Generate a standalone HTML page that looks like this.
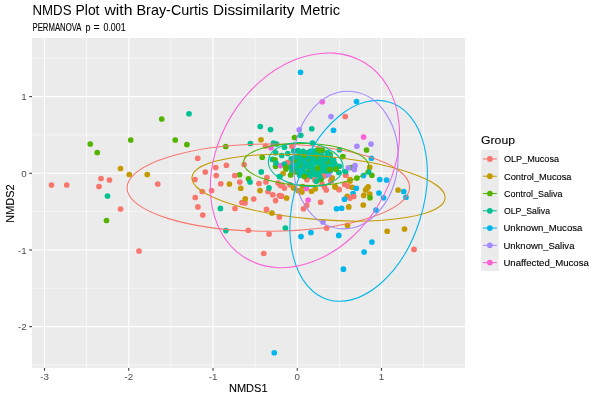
<!DOCTYPE html><html><head><meta charset="utf-8"><style>html,body{margin:0;padding:0;background:#fff}body{width:600px;height:400px;position:relative;overflow:hidden;font-family:"Liberation Sans",sans-serif}</style></head><body><svg width="600" height="400" viewBox="0 0 600 400" style="position:absolute;left:0;top:0;will-change:transform;font-family:'Liberation Sans',sans-serif">
<rect width="600" height="400" fill="#fff"/>
<rect x="32" y="38" width="433" height="330" fill="#EBEBEB"/>
<line x1="86.62" x2="86.62" y1="38" y2="368" stroke="#fff" stroke-width="0.6"/>
<line x1="170.88" x2="170.88" y1="38" y2="368" stroke="#fff" stroke-width="0.6"/>
<line x1="255.12" x2="255.12" y1="38" y2="368" stroke="#fff" stroke-width="0.6"/>
<line x1="339.38" x2="339.38" y1="38" y2="368" stroke="#fff" stroke-width="0.6"/>
<line x1="423.62" x2="423.62" y1="38" y2="368" stroke="#fff" stroke-width="0.6"/>
<line y1="58.30" y2="58.30" x1="32" x2="465" stroke="#fff" stroke-width="0.6"/>
<line y1="134.97" y2="134.97" x1="32" x2="465" stroke="#fff" stroke-width="0.6"/>
<line y1="211.64" y2="211.64" x1="32" x2="465" stroke="#fff" stroke-width="0.6"/>
<line y1="288.31" y2="288.31" x1="32" x2="465" stroke="#fff" stroke-width="0.6"/>
<line y1="364.98" y2="364.98" x1="32" x2="465" stroke="#fff" stroke-width="0.6"/>
<line x1="44.50" x2="44.50" y1="38" y2="368" stroke="#fff" stroke-width="1.07"/>
<line x1="128.75" x2="128.75" y1="38" y2="368" stroke="#fff" stroke-width="1.07"/>
<line x1="213.00" x2="213.00" y1="38" y2="368" stroke="#fff" stroke-width="1.07"/>
<line x1="297.25" x2="297.25" y1="38" y2="368" stroke="#fff" stroke-width="1.07"/>
<line x1="381.50" x2="381.50" y1="38" y2="368" stroke="#fff" stroke-width="1.07"/>
<line y1="96.63" y2="96.63" x1="32" x2="465" stroke="#fff" stroke-width="1.07"/>
<line y1="173.30" y2="173.30" x1="32" x2="465" stroke="#fff" stroke-width="1.07"/>
<line y1="249.97" y2="249.97" x1="32" x2="465" stroke="#fff" stroke-width="1.07"/>
<line y1="326.64" y2="326.64" x1="32" x2="465" stroke="#fff" stroke-width="1.07"/>
<circle cx="272.5" cy="159.4" r="2.85" fill="#00C094"/>
<circle cx="161.75" cy="119" r="2.85" fill="#53B400"/>
<circle cx="130.75" cy="140" r="2.85" fill="#53B400"/>
<circle cx="175.25" cy="140" r="2.85" fill="#53B400"/>
<circle cx="90.25" cy="144" r="2.85" fill="#53B400"/>
<circle cx="97.25" cy="152.5" r="2.85" fill="#53B400"/>
<circle cx="106.5" cy="220.5" r="2.85" fill="#53B400"/>
<circle cx="186.9" cy="144.6" r="2.85" fill="#53B400"/>
<circle cx="225.75" cy="146.5" r="2.85" fill="#53B400"/>
<circle cx="294.5" cy="137.5" r="2.85" fill="#53B400"/>
<circle cx="262.25" cy="157.25" r="2.85" fill="#53B400"/>
<circle cx="275" cy="159.75" r="2.85" fill="#53B400"/>
<circle cx="275.6" cy="166.25" r="2.85" fill="#53B400"/>
<circle cx="366.5" cy="150" r="2.85" fill="#53B400"/>
<circle cx="335.6" cy="168.5" r="2.85" fill="#53B400"/>
<circle cx="330" cy="154.4" r="2.85" fill="#53B400"/>
<circle cx="371.9" cy="175.25" r="2.85" fill="#53B400"/>
<circle cx="239.6" cy="174.75" r="2.85" fill="#53B400"/>
<circle cx="248.5" cy="178.75" r="2.85" fill="#53B400"/>
<circle cx="351.5" cy="167.5" r="2.85" fill="#53B400"/>
<circle cx="286" cy="169" r="2.85" fill="#53B400"/>
<circle cx="317.5" cy="150" r="2.85" fill="#53B400"/>
<circle cx="322.5" cy="150.6" r="2.85" fill="#53B400"/>
<circle cx="322.3" cy="151.0" r="2.85" fill="#00C094"/>
<circle cx="314.0" cy="172.4" r="2.85" fill="#00C094"/>
<circle cx="330.4" cy="170.7" r="2.85" fill="#00C094"/>
<circle cx="298.6" cy="160.4" r="2.85" fill="#00C094"/>
<circle cx="303.1" cy="168.5" r="2.85" fill="#00C094"/>
<circle cx="322.6" cy="171.2" r="2.85" fill="#00C094"/>
<circle cx="307.4" cy="156.0" r="2.85" fill="#00C094"/>
<circle cx="310.1" cy="156.4" r="2.85" fill="#00C094"/>
<circle cx="302.9" cy="164.5" r="2.85" fill="#00C094"/>
<circle cx="333.4" cy="166.8" r="2.85" fill="#00C094"/>
<circle cx="302.7" cy="155.7" r="2.85" fill="#00C094"/>
<circle cx="314.6" cy="155.0" r="2.85" fill="#00C094"/>
<circle cx="329.6" cy="159.2" r="2.85" fill="#00C094"/>
<circle cx="330.1" cy="156.4" r="2.85" fill="#00C094"/>
<circle cx="294.5" cy="170.6" r="2.85" fill="#00C094"/>
<circle cx="317.8" cy="171.1" r="2.85" fill="#00C094"/>
<circle cx="318.2" cy="168.0" r="2.85" fill="#00C094"/>
<circle cx="322.0" cy="156.1" r="2.85" fill="#00C094"/>
<circle cx="318.4" cy="160.0" r="2.85" fill="#00C094"/>
<circle cx="294.9" cy="160.3" r="2.85" fill="#00C094"/>
<circle cx="292.0" cy="171.4" r="2.85" fill="#00C094"/>
<circle cx="313.5" cy="168.3" r="2.85" fill="#00C094"/>
<circle cx="319.3" cy="175.4" r="2.85" fill="#00C094"/>
<circle cx="290.0" cy="164.4" r="2.85" fill="#00C094"/>
<circle cx="318.6" cy="156.1" r="2.85" fill="#00C094"/>
<circle cx="299.6" cy="166.8" r="2.85" fill="#00C094"/>
<circle cx="295.2" cy="162.8" r="2.85" fill="#00C094"/>
<circle cx="330.6" cy="163.2" r="2.85" fill="#00C094"/>
<circle cx="325.8" cy="167.2" r="2.85" fill="#00C094"/>
<circle cx="307.0" cy="159.2" r="2.85" fill="#00C094"/>
<circle cx="307.3" cy="172.5" r="2.85" fill="#00C094"/>
<circle cx="319.2" cy="163.7" r="2.85" fill="#00C094"/>
<circle cx="333.6" cy="160.1" r="2.85" fill="#00C094"/>
<circle cx="299.7" cy="175.3" r="2.85" fill="#00C094"/>
<circle cx="295.4" cy="167.8" r="2.85" fill="#00C094"/>
<circle cx="326.3" cy="163.3" r="2.85" fill="#00C094"/>
<circle cx="327" cy="161" r="2.85" fill="#53B400"/>
<circle cx="308.75" cy="161.25" r="2.85" fill="#53B400"/>
<circle cx="326" cy="161" r="2.85" fill="#53B400"/>
<circle cx="300" cy="165" r="2.85" fill="#53B400"/>
<circle cx="310" cy="170" r="2.85" fill="#53B400"/>
<circle cx="315" cy="158" r="2.85" fill="#53B400"/>
<circle cx="296" cy="172" r="2.85" fill="#53B400"/>
<circle cx="305" cy="155" r="2.85" fill="#53B400"/>
<circle cx="294" cy="160" r="2.85" fill="#53B400"/>
<circle cx="312" cy="173" r="2.85" fill="#53B400"/>
<circle cx="318" cy="168" r="2.85" fill="#53B400"/>
<circle cx="295.2" cy="156.6" r="2.85" fill="#00C094"/>
<circle cx="329.4" cy="167.5" r="2.85" fill="#00C094"/>
<circle cx="303.4" cy="172.5" r="2.85" fill="#00C094"/>
<circle cx="325.7" cy="175.2" r="2.85" fill="#00C094"/>
<circle cx="326.5" cy="156.8" r="2.85" fill="#00C094"/>
<circle cx="310.7" cy="162.8" r="2.85" fill="#00C094"/>
<circle cx="325.8" cy="171.7" r="2.85" fill="#00C094"/>
<circle cx="322.5" cy="162.8" r="2.85" fill="#00C094"/>
<circle cx="298.1" cy="170.9" r="2.85" fill="#00C094"/>
<circle cx="334.7" cy="163.6" r="2.85" fill="#00C094"/>
<circle cx="306.2" cy="166.7" r="2.85" fill="#00C094"/>
<circle cx="311.2" cy="158.9" r="2.85" fill="#00C094"/>
<circle cx="313.8" cy="159.6" r="2.85" fill="#00C094"/>
<circle cx="310.3" cy="151.3" r="2.85" fill="#00C094"/>
<circle cx="291.3" cy="158.9" r="2.85" fill="#00C094"/>
<circle cx="298.7" cy="164.6" r="2.85" fill="#00C094"/>
<circle cx="299.2" cy="152.8" r="2.85" fill="#00C094"/>
<circle cx="322.5" cy="167.5" r="2.85" fill="#00C094"/>
<circle cx="290.5" cy="167.1" r="2.85" fill="#00C094"/>
<circle cx="322.6" cy="175.9" r="2.85" fill="#00C094"/>
<circle cx="310.5" cy="176.4" r="2.85" fill="#00C094"/>
<circle cx="325.6" cy="159.7" r="2.85" fill="#00C094"/>
<circle cx="302.4" cy="160.0" r="2.85" fill="#00C094"/>
<circle cx="307.3" cy="163.8" r="2.85" fill="#00C094"/>
<circle cx="314.6" cy="163.0" r="2.85" fill="#00C094"/>
<circle cx="303.0" cy="174.7" r="2.85" fill="#00C094"/>
<circle cx="305.8" cy="176.0" r="2.85" fill="#00C094"/>
<circle cx="310.9" cy="167.3" r="2.85" fill="#00C094"/>
<circle cx="314.0" cy="151.2" r="2.85" fill="#00C094"/>
<circle cx="321.2" cy="160.0" r="2.85" fill="#00C094"/>
<circle cx="303.0" cy="151.6" r="2.85" fill="#00C094"/>
<circle cx="318.2" cy="152.0" r="2.85" fill="#00C094"/>
<circle cx="299.2" cy="156.7" r="2.85" fill="#00C094"/>
<circle cx="315.2" cy="175.2" r="2.85" fill="#00C094"/>
<circle cx="311.3" cy="172.5" r="2.85" fill="#00C094"/>
<circle cx="307.3" cy="152.9" r="2.85" fill="#00C094"/>
<circle cx="287.75" cy="162.5" r="2.85" fill="#F8766D"/>
<circle cx="347.25" cy="196.25" r="2.85" fill="#C49A00"/>
<circle cx="353.1" cy="193.5" r="2.85" fill="#00B6EB"/>
<circle cx="51.5" cy="185" r="2.85" fill="#F8766D"/>
<circle cx="66.75" cy="185" r="2.85" fill="#F8766D"/>
<circle cx="101" cy="178.5" r="2.85" fill="#F8766D"/>
<circle cx="109.5" cy="180" r="2.85" fill="#F8766D"/>
<circle cx="99" cy="186.5" r="2.85" fill="#F8766D"/>
<circle cx="157.75" cy="184" r="2.85" fill="#F8766D"/>
<circle cx="120.5" cy="209" r="2.85" fill="#F8766D"/>
<circle cx="139" cy="251" r="2.85" fill="#F8766D"/>
<circle cx="197.75" cy="158.25" r="2.85" fill="#F8766D"/>
<circle cx="215.75" cy="167.5" r="2.85" fill="#F8766D"/>
<circle cx="226.4" cy="165.25" r="2.85" fill="#F8766D"/>
<circle cx="244.1" cy="164.5" r="2.85" fill="#F8766D"/>
<circle cx="265.5" cy="146" r="2.85" fill="#F8766D"/>
<circle cx="292" cy="146.5" r="2.85" fill="#F8766D"/>
<circle cx="345.25" cy="116.5" r="2.85" fill="#F8766D"/>
<circle cx="345.6" cy="175.25" r="2.85" fill="#F8766D"/>
<circle cx="331" cy="180.6" r="2.85" fill="#F8766D"/>
<circle cx="344.75" cy="184.4" r="2.85" fill="#F8766D"/>
<circle cx="348.1" cy="186.25" r="2.85" fill="#F8766D"/>
<circle cx="339.1" cy="189.6" r="2.85" fill="#F8766D"/>
<circle cx="353.75" cy="196.5" r="2.85" fill="#F8766D"/>
<circle cx="350" cy="198.1" r="2.85" fill="#F8766D"/>
<circle cx="205.25" cy="172" r="2.85" fill="#F8766D"/>
<circle cx="216.25" cy="175.5" r="2.85" fill="#F8766D"/>
<circle cx="195" cy="179.5" r="2.85" fill="#F8766D"/>
<circle cx="234.75" cy="175.5" r="2.85" fill="#F8766D"/>
<circle cx="239.75" cy="182" r="2.85" fill="#F8766D"/>
<circle cx="220.75" cy="183.75" r="2.85" fill="#F8766D"/>
<circle cx="202.25" cy="191.5" r="2.85" fill="#F8766D"/>
<circle cx="211.6" cy="190.6" r="2.85" fill="#F8766D"/>
<circle cx="195.25" cy="197.5" r="2.85" fill="#F8766D"/>
<circle cx="253.75" cy="199" r="2.85" fill="#F8766D"/>
<circle cx="241.9" cy="202.5" r="2.85" fill="#F8766D"/>
<circle cx="245" cy="202.9" r="2.85" fill="#F8766D"/>
<circle cx="197.9" cy="206.9" r="2.85" fill="#F8766D"/>
<circle cx="235" cy="208.5" r="2.85" fill="#F8766D"/>
<circle cx="202.75" cy="215" r="2.85" fill="#F8766D"/>
<circle cx="266.9" cy="177.5" r="2.85" fill="#F8766D"/>
<circle cx="266" cy="181.9" r="2.85" fill="#F8766D"/>
<circle cx="259" cy="183.5" r="2.85" fill="#F8766D"/>
<circle cx="268.1" cy="191.5" r="2.85" fill="#F8766D"/>
<circle cx="278.1" cy="183.1" r="2.85" fill="#F8766D"/>
<circle cx="280.6" cy="185.6" r="2.85" fill="#F8766D"/>
<circle cx="284.4" cy="188.1" r="2.85" fill="#F8766D"/>
<circle cx="290" cy="184.75" r="2.85" fill="#F8766D"/>
<circle cx="272.75" cy="194.75" r="2.85" fill="#F8766D"/>
<circle cx="279.4" cy="195.6" r="2.85" fill="#F8766D"/>
<circle cx="281.5" cy="196.25" r="2.85" fill="#F8766D"/>
<circle cx="275.6" cy="200.6" r="2.85" fill="#F8766D"/>
<circle cx="306.9" cy="179.75" r="2.85" fill="#F8766D"/>
<circle cx="314.75" cy="180" r="2.85" fill="#F8766D"/>
<circle cx="322.5" cy="176.9" r="2.85" fill="#F8766D"/>
<circle cx="324.4" cy="186.9" r="2.85" fill="#F8766D"/>
<circle cx="326.25" cy="190" r="2.85" fill="#F8766D"/>
<circle cx="320.6" cy="202.25" r="2.85" fill="#F8766D"/>
<circle cx="306.6" cy="205.4" r="2.85" fill="#F8766D"/>
<circle cx="303.5" cy="208.75" r="2.85" fill="#F8766D"/>
<circle cx="266.5" cy="209.4" r="2.85" fill="#F8766D"/>
<circle cx="279.4" cy="216.9" r="2.85" fill="#F8766D"/>
<circle cx="248.25" cy="230.25" r="2.85" fill="#F8766D"/>
<circle cx="269.1" cy="234.1" r="2.85" fill="#F8766D"/>
<circle cx="326.6" cy="228.1" r="2.85" fill="#F8766D"/>
<circle cx="263.75" cy="253.5" r="2.85" fill="#F8766D"/>
<circle cx="414" cy="249.4" r="2.85" fill="#F8766D"/>
<circle cx="345.8" cy="175" r="2.85" fill="#F8766D"/>
<circle cx="323.5" cy="176" r="2.85" fill="#F8766D"/>
<circle cx="331" cy="181" r="2.85" fill="#F8766D"/>
<circle cx="339" cy="189.5" r="2.85" fill="#F8766D"/>
<circle cx="282" cy="185" r="2.85" fill="#F8766D"/>
<circle cx="281.5" cy="196" r="2.85" fill="#F8766D"/>
<circle cx="322" cy="184" r="2.85" fill="#F8766D"/>
<circle cx="120.5" cy="168.5" r="2.85" fill="#C49A00"/>
<circle cx="129.25" cy="174.5" r="2.85" fill="#C49A00"/>
<circle cx="147.25" cy="174.5" r="2.85" fill="#C49A00"/>
<circle cx="261" cy="139.75" r="2.85" fill="#C49A00"/>
<circle cx="369.75" cy="167.25" r="2.85" fill="#C49A00"/>
<circle cx="331.9" cy="178.1" r="2.85" fill="#C49A00"/>
<circle cx="350" cy="181" r="2.85" fill="#C49A00"/>
<circle cx="335.25" cy="186.9" r="2.85" fill="#C49A00"/>
<circle cx="352.25" cy="187.25" r="2.85" fill="#C49A00"/>
<circle cx="368.1" cy="186.9" r="2.85" fill="#C49A00"/>
<circle cx="366.8" cy="188.5" r="2.85" fill="#C49A00"/>
<circle cx="365.6" cy="190" r="2.85" fill="#C49A00"/>
<circle cx="398.1" cy="190" r="2.85" fill="#C49A00"/>
<circle cx="363.75" cy="195.4" r="2.85" fill="#C49A00"/>
<circle cx="369.75" cy="194.1" r="2.85" fill="#C49A00"/>
<circle cx="363.25" cy="205" r="2.85" fill="#C49A00"/>
<circle cx="348.75" cy="206.9" r="2.85" fill="#C49A00"/>
<circle cx="229.4" cy="184" r="2.85" fill="#C49A00"/>
<circle cx="240.75" cy="188.25" r="2.85" fill="#C49A00"/>
<circle cx="245.25" cy="198.75" r="2.85" fill="#C49A00"/>
<circle cx="283.1" cy="173.5" r="2.85" fill="#C49A00"/>
<circle cx="260" cy="190.6" r="2.85" fill="#C49A00"/>
<circle cx="286.6" cy="198" r="2.85" fill="#C49A00"/>
<circle cx="293.5" cy="188.1" r="2.85" fill="#C49A00"/>
<circle cx="298.1" cy="190.6" r="2.85" fill="#C49A00"/>
<circle cx="301.9" cy="191.9" r="2.85" fill="#C49A00"/>
<circle cx="311.5" cy="191.25" r="2.85" fill="#C49A00"/>
<circle cx="315.25" cy="188.75" r="2.85" fill="#C49A00"/>
<circle cx="271.9" cy="213.1" r="2.85" fill="#C49A00"/>
<circle cx="347.5" cy="225.4" r="2.85" fill="#C49A00"/>
<circle cx="387.2" cy="231.25" r="2.85" fill="#C49A00"/>
<circle cx="404.5" cy="229" r="2.85" fill="#C49A00"/>
<circle cx="332" cy="178" r="2.85" fill="#C49A00"/>
<circle cx="350" cy="179.5" r="2.85" fill="#C49A00"/>
<circle cx="335" cy="186.8" r="2.85" fill="#C49A00"/>
<circle cx="302.5" cy="186.5" r="2.85" fill="#C49A00"/>
<circle cx="321" cy="179.5" r="2.85" fill="#53B400"/>
<circle cx="328.75" cy="174.5" r="2.85" fill="#A58AFF"/>
<circle cx="280.6" cy="165.6" r="2.85" fill="#FB61D7"/>
<circle cx="107.5" cy="196" r="2.85" fill="#00C094"/>
<circle cx="189" cy="113.75" r="2.85" fill="#00C094"/>
<circle cx="260.25" cy="126.5" r="2.85" fill="#00C094"/>
<circle cx="270.5" cy="129.5" r="2.85" fill="#00C094"/>
<circle cx="311.75" cy="128.75" r="2.85" fill="#00C094"/>
<circle cx="300.75" cy="135.25" r="2.85" fill="#00C094"/>
<circle cx="250.4" cy="143.5" r="2.85" fill="#00C094"/>
<circle cx="273.5" cy="143" r="2.85" fill="#00C094"/>
<circle cx="276.5" cy="144" r="2.85" fill="#00C094"/>
<circle cx="284.5" cy="147.25" r="2.85" fill="#00C094"/>
<circle cx="312.5" cy="143" r="2.85" fill="#00C094"/>
<circle cx="275.6" cy="152.75" r="2.85" fill="#00C094"/>
<circle cx="281.75" cy="155.5" r="2.85" fill="#00C094"/>
<circle cx="287.75" cy="153.5" r="2.85" fill="#00C094"/>
<circle cx="293.75" cy="151" r="2.85" fill="#00C094"/>
<circle cx="298" cy="150.6" r="2.85" fill="#00C094"/>
<circle cx="303" cy="151.25" r="2.85" fill="#00C094"/>
<circle cx="276" cy="163" r="2.85" fill="#00C094"/>
<circle cx="284.4" cy="164" r="2.85" fill="#00C094"/>
<circle cx="339.5" cy="149.75" r="2.85" fill="#00C094"/>
<circle cx="332.5" cy="161.25" r="2.85" fill="#00C094"/>
<circle cx="339.4" cy="166.25" r="2.85" fill="#00C094"/>
<circle cx="338.75" cy="172.5" r="2.85" fill="#00C094"/>
<circle cx="345.6" cy="171.5" r="2.85" fill="#00C094"/>
<circle cx="368.5" cy="171.9" r="2.85" fill="#00C094"/>
<circle cx="250" cy="182" r="2.85" fill="#00C094"/>
<circle cx="220.4" cy="208.4" r="2.85" fill="#00C094"/>
<circle cx="225.9" cy="230.6" r="2.85" fill="#00C094"/>
<circle cx="261.25" cy="171.9" r="2.85" fill="#00C094"/>
<circle cx="279.4" cy="176.5" r="2.85" fill="#00C094"/>
<circle cx="269" cy="187.9" r="2.85" fill="#00C094"/>
<circle cx="316.25" cy="181.25" r="2.85" fill="#00C094"/>
<circle cx="285.4" cy="228" r="2.85" fill="#00C094"/>
<circle cx="327.5" cy="152.5" r="2.85" fill="#00C094"/>
<circle cx="328" cy="171" r="2.85" fill="#00C094"/>
<circle cx="320" cy="177" r="2.85" fill="#00C094"/>
<circle cx="280" cy="176.5" r="2.85" fill="#00C094"/>
<circle cx="300.5" cy="72.25" r="2.85" fill="#00B6EB"/>
<circle cx="356.5" cy="101.5" r="2.85" fill="#00B6EB"/>
<circle cx="333.5" cy="130.25" r="2.85" fill="#00B6EB"/>
<circle cx="371.4" cy="158.25" r="2.85" fill="#00B6EB"/>
<circle cx="363.5" cy="175.6" r="2.85" fill="#00B6EB"/>
<circle cx="379.75" cy="179.5" r="2.85" fill="#00B6EB"/>
<circle cx="386.6" cy="180" r="2.85" fill="#00B6EB"/>
<circle cx="356.25" cy="188.25" r="2.85" fill="#00B6EB"/>
<circle cx="403.75" cy="191.5" r="2.85" fill="#00B6EB"/>
<circle cx="379" cy="193" r="2.85" fill="#00B6EB"/>
<circle cx="344.5" cy="199.25" r="2.85" fill="#00B6EB"/>
<circle cx="383.5" cy="197.75" r="2.85" fill="#00B6EB"/>
<circle cx="406" cy="197.25" r="2.85" fill="#00B6EB"/>
<circle cx="336.5" cy="208.75" r="2.85" fill="#00B6EB"/>
<circle cx="341.6" cy="208.25" r="2.85" fill="#00B6EB"/>
<circle cx="376" cy="210" r="2.85" fill="#00B6EB"/>
<circle cx="301" cy="236.6" r="2.85" fill="#00B6EB"/>
<circle cx="310.9" cy="232.5" r="2.85" fill="#00B6EB"/>
<circle cx="338.75" cy="235.4" r="2.85" fill="#00B6EB"/>
<circle cx="371.9" cy="242.1" r="2.85" fill="#00B6EB"/>
<circle cx="364.1" cy="252" r="2.85" fill="#00B6EB"/>
<circle cx="343.4" cy="269.2" r="2.85" fill="#00B6EB"/>
<circle cx="274.25" cy="352.75" r="2.85" fill="#00B6EB"/>
<circle cx="299.25" cy="129.75" r="2.85" fill="#A58AFF"/>
<circle cx="331" cy="116.6" r="2.85" fill="#A58AFF"/>
<circle cx="371" cy="144" r="2.85" fill="#A58AFF"/>
<circle cx="356.9" cy="146.25" r="2.85" fill="#A58AFF"/>
<circle cx="355" cy="165.6" r="2.85" fill="#A58AFF"/>
<circle cx="348.4" cy="167.75" r="2.85" fill="#A58AFF"/>
<circle cx="354.3" cy="169.5" r="2.85" fill="#A58AFF"/>
<circle cx="323" cy="222" r="2.85" fill="#A58AFF"/>
<circle cx="322.25" cy="101.75" r="2.85" fill="#FB61D7"/>
<circle cx="363.6" cy="137" r="2.85" fill="#FB61D7"/>
<circle cx="271" cy="147.75" r="2.85" fill="#FB61D7"/>
<circle cx="306.4" cy="188.5" r="2.85" fill="#FB61D7"/>
<circle cx="308.1" cy="200" r="2.85" fill="#FB61D7"/>
<circle cx="286" cy="167.5" r="2.85" fill="#53B400"/>
<circle cx="342.9" cy="156.6" r="2.85" fill="#53B400"/>
<circle cx="356.9" cy="178.1" r="2.85" fill="#53B400"/>
<circle cx="370" cy="197.75" r="2.85" fill="#53B400"/>
<circle cx="290.6" cy="175" r="2.85" fill="#53B400"/>
<circle cx="319" cy="150" r="2.85" fill="#53B400"/>
<circle cx="322" cy="150" r="2.85" fill="#53B400"/>
<circle cx="336" cy="169.2" r="2.85" fill="#53B400"/>
<circle cx="329.5" cy="169.5" r="2.85" fill="#53B400"/>
<circle cx="304.5" cy="176.5" r="2.85" fill="#53B400"/>
<clipPath id="c"><rect x="32" y="38" width="433" height="330"/></clipPath><g clip-path="url(#c)" fill="none" stroke-width="1.07">
<ellipse cx="268.38" cy="187.59" rx="43.58" ry="141.29" transform="rotate(89.88 268.38 187.59)" stroke="#F8766D"/>
<ellipse cx="318.53" cy="187.74" rx="31.76" ry="127.01" transform="rotate(94.75 318.53 187.74)" stroke="#C49A00"/>
<ellipse cx="306.1" cy="164.4" rx="62.7" ry="20.95" transform="rotate(-178.3 306.1 164.4)" stroke="#53B400"/>
<ellipse cx="305.73" cy="164.53" rx="21.66" ry="37.61" transform="rotate(96.36 305.73 164.53)" stroke="#00C094"/>
<ellipse cx="358.64" cy="200.86" rx="64.09" ry="103.39" transform="rotate(-162.42 358.64 200.86)" stroke="#00B6EB"/>
<ellipse cx="345.81" cy="160.08" rx="52.19" ry="68.85" transform="rotate(-175.28 345.81 160.08)" stroke="#A58AFF"/>
<ellipse cx="304.92" cy="160.32" rx="85.98" ry="114.36" transform="rotate(-148.49 304.92 160.32)" stroke="#FB61D7"/>
</g>
<line x1="44.50" x2="44.50" y1="368" y2="370.75" stroke="#333" stroke-width="1.07"/>
<text x="44.50" y="379.6" font-size="9.8" fill="#4D4D4D" text-anchor="middle">-3</text>
<line x1="128.75" x2="128.75" y1="368" y2="370.75" stroke="#333" stroke-width="1.07"/>
<text x="128.75" y="379.6" font-size="9.8" fill="#4D4D4D" text-anchor="middle">-2</text>
<line x1="213.00" x2="213.00" y1="368" y2="370.75" stroke="#333" stroke-width="1.07"/>
<text x="213.00" y="379.6" font-size="9.8" fill="#4D4D4D" text-anchor="middle">-1</text>
<line x1="297.25" x2="297.25" y1="368" y2="370.75" stroke="#333" stroke-width="1.07"/>
<text x="297.25" y="379.6" font-size="9.8" fill="#4D4D4D" text-anchor="middle">0</text>
<line x1="381.50" x2="381.50" y1="368" y2="370.75" stroke="#333" stroke-width="1.07"/>
<text x="381.50" y="379.6" font-size="9.8" fill="#4D4D4D" text-anchor="middle">1</text>
<line y1="96.63" y2="96.63" x1="29.25" x2="32" stroke="#333" stroke-width="1.07"/>
<text x="26.6" y="100.18" font-size="9.8" fill="#4D4D4D" text-anchor="end">1</text>
<line y1="173.30" y2="173.30" x1="29.25" x2="32" stroke="#333" stroke-width="1.07"/>
<text x="26.6" y="176.85" font-size="9.8" fill="#4D4D4D" text-anchor="end">0</text>
<line y1="249.97" y2="249.97" x1="29.25" x2="32" stroke="#333" stroke-width="1.07"/>
<text x="26.6" y="253.52" font-size="9.8" fill="#4D4D4D" text-anchor="end">-1</text>
<line y1="326.64" y2="326.64" x1="29.25" x2="32" stroke="#333" stroke-width="1.07"/>
<text x="26.6" y="330.19" font-size="9.8" fill="#4D4D4D" text-anchor="end">-2</text>
<text x="32.50" y="14.9" font-size="14.4" fill="#000" stroke="#000" stroke-width="0" textLength="39.00" lengthAdjust="spacingAndGlyphs">NMDS</text>
<text x="75.50" y="14.9" font-size="14.4" fill="#000" stroke="#000" stroke-width="0" textLength="24.00" lengthAdjust="spacingAndGlyphs">Plot</text>
<text x="104.50" y="14.9" font-size="14.4" fill="#000" stroke="#000" stroke-width="0" textLength="28.00" lengthAdjust="spacingAndGlyphs">with</text>
<text x="136.50" y="14.9" font-size="14.4" fill="#000" stroke="#000" stroke-width="0" textLength="72.01" lengthAdjust="spacingAndGlyphs">Bray-Curtis</text>
<text x="213.00" y="14.9" font-size="14.4" fill="#000" stroke="#000" stroke-width="0" textLength="81.50" lengthAdjust="spacingAndGlyphs">Dissimilarity</text>
<text x="300.00" y="14.9" font-size="14.4" fill="#000" stroke="#000" stroke-width="0" textLength="40.01" lengthAdjust="spacingAndGlyphs">Metric</text>
<text x="32.50" y="30.8" font-size="10" fill="#000" stroke="#000" stroke-width="0.1" textLength="49.00" lengthAdjust="spacingAndGlyphs">PERMANOVA</text>
<text x="85.50" y="30.8" font-size="10" fill="#000" stroke="#000" stroke-width="0.1" textLength="5.00" lengthAdjust="spacingAndGlyphs">p</text>
<text x="93.50" y="30.8" font-size="10" fill="#000" stroke="#000" stroke-width="0.1" textLength="6.05" lengthAdjust="spacingAndGlyphs">=</text>
<text x="103.50" y="30.8" font-size="10" fill="#000" stroke="#000" stroke-width="0.1" textLength="22.05" lengthAdjust="spacingAndGlyphs">0.001</text>
<text x="229.00" y="392.45" font-size="11.7" fill="#000" stroke="#000" stroke-width="0.1" textLength="38.52" lengthAdjust="spacingAndGlyphs">NMDS1</text>
<text transform="translate(13.6 222.7) rotate(-90)" font-size="11.7" stroke="#000" stroke-width="0.1" fill="#000" textLength="38.3" lengthAdjust="spacingAndGlyphs">NMDS2</text>
<text x="481.00" y="143.8" font-size="11.8" fill="#000" stroke="#000" stroke-width="0.1" textLength="34.01" lengthAdjust="spacingAndGlyphs">Group</text>
<rect x="481.1" y="150" width="17.7" height="121" fill="#EBEBEB"/>
<line x1="482.9" x2="496.8" y1="158.94" y2="158.94" stroke="#F8766D" stroke-width="1.07"/>
<circle cx="489.85" cy="158.94" r="2.85" fill="#F8766D"/>
<text x="504.00" y="162.24" font-size="9.9" fill="#000" stroke="#000" stroke-width="0.12" textLength="55.01" lengthAdjust="spacingAndGlyphs">OLP_Mucosa</text>
<line x1="482.9" x2="496.8" y1="176.22" y2="176.22" stroke="#C49A00" stroke-width="1.07"/>
<circle cx="489.85" cy="176.22" r="2.85" fill="#C49A00"/>
<text x="504.00" y="179.52" font-size="9.9" fill="#000" stroke="#000" stroke-width="0.12" textLength="67.50" lengthAdjust="spacingAndGlyphs">Control_Mucosa</text>
<line x1="482.9" x2="496.8" y1="193.50" y2="193.50" stroke="#53B400" stroke-width="1.07"/>
<circle cx="489.85" cy="193.5" r="2.85" fill="#53B400"/>
<text x="504.00" y="196.8" font-size="9.9" fill="#000" stroke="#000" stroke-width="0.12" textLength="58.50" lengthAdjust="spacingAndGlyphs">Control_Saliva</text>
<line x1="482.9" x2="496.8" y1="210.78" y2="210.78" stroke="#00C094" stroke-width="1.07"/>
<circle cx="489.85" cy="210.78" r="2.85" fill="#00C094"/>
<text x="504.00" y="214.08" font-size="9.9" fill="#000" stroke="#000" stroke-width="0.12" textLength="46.00" lengthAdjust="spacingAndGlyphs">OLP_Saliva</text>
<line x1="482.9" x2="496.8" y1="228.06" y2="228.06" stroke="#00B6EB" stroke-width="1.07"/>
<circle cx="489.85" cy="228.06" r="2.85" fill="#00B6EB"/>
<text x="503.40" y="231.36" font-size="9.9" fill="#000" stroke="#000" stroke-width="0.12" textLength="79.00" lengthAdjust="spacingAndGlyphs">Unknown_Mucosa</text>
<line x1="482.9" x2="496.8" y1="245.34" y2="245.34" stroke="#A58AFF" stroke-width="1.07"/>
<circle cx="489.85" cy="245.34" r="2.85" fill="#A58AFF"/>
<text x="503.40" y="248.64" font-size="9.9" fill="#000" stroke="#000" stroke-width="0.12" textLength="71.05" lengthAdjust="spacingAndGlyphs">Unknown_Saliva</text>
<line x1="482.9" x2="496.8" y1="262.62" y2="262.62" stroke="#FB61D7" stroke-width="1.07"/>
<circle cx="489.85" cy="262.62" r="2.85" fill="#FB61D7"/>
<text x="503.40" y="265.92" font-size="9.9" fill="#000" stroke="#000" stroke-width="0.12" textLength="85.50" lengthAdjust="spacingAndGlyphs">Unaffected_Mucosa</text>
</svg></body></html>
